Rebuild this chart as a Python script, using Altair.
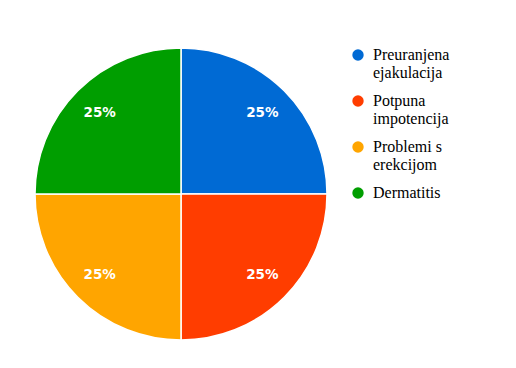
import altair as alt
import pandas as pd

categories = ["Preuranjena\nejakulacija", "Potpuna\nimpotencija", "Problemi s\nerekcijom", "Dermatitis"]
values = [25, 25, 25, 25]
labels = ["25%", "25%", "25%", "25%"]
colors = ["#006AD4", "#FF3D00", "#FFA500", "#009E00"]

df = pd.DataFrame({"cat": categories, "val": values, "lab": labels, "ord": list(range(len(categories)))})

base = alt.Chart(df).encode(
    theta=alt.Theta("val:Q", stack=True),
    order=alt.Order("ord:Q"),
)

pie = base.mark_arc(radius=146, stroke="white", strokeWidth=1.5).encode(
    x=alt.value(173),
    y=alt.value(186),
    color=alt.Color(
        "cat:N",
        scale=alt.Scale(domain=categories, range=colors),
        sort=categories,
        legend=alt.Legend(
            title=None,
            orient="none",
            legendX=342,
            legendY=39,
            symbolType="circle",
            symbolSize=130,
            symbolStrokeWidth=0,
            labelFont="Liberation Serif",
            labelFontSize=16,
            labelColor="#000",
            labelLimit=200,
            labelExpr="split(datum.label, '\\n')",
            rowPadding=12,
            labelOffset=7,
        ),
    ),
)

text = base.mark_text(radius=115, font="DejaVu Sans", fontWeight="bold", fontSize=13.5, color="white").encode(
    x=alt.value(173),
    y=alt.value(186),
    text="lab:N",
)

chart = (pie + text).properties(
    width=500, height=352, padding=0,
    autosize=alt.AutoSizeParams(type="fit", contains="padding"),
).configure_view(stroke=None)

chart.save("out.html", embed_options={"renderer": "svg", "actions": False})
